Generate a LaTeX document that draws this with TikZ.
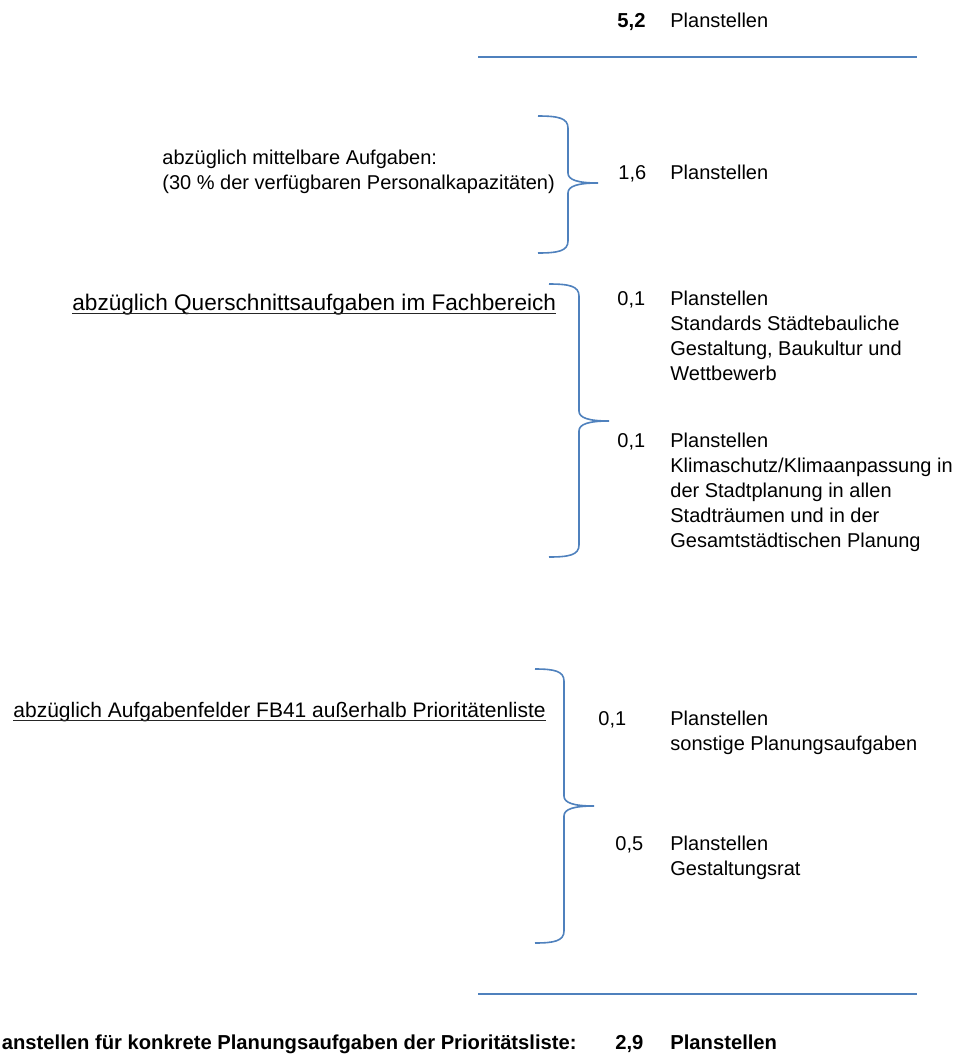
\documentclass[tikz,border=0pt]{standalone}
\usepackage{fontspec}
\setmainfont{Liberation Sans}
\usepackage{tikz}
\usetikzlibrary{positioning}
\definecolor{wordblue}{HTML}{4F81BD}

% curly bracket opening to the left: ends x, spine x, top y, tip y, bottom y
\newcommand{\planbrace}[5]{%
  \draw[bracket] (#1,#3) .. controls ({#2-10},#3) and (#2,{#3+2}) .. (#2,{#3+12})
    -- (#2,{#4-10}) .. controls (#2,{#4-3}) and ({#2+10},#4) .. ({#2+30},#4)
    .. controls ({#2+10},#4) and (#2,{#4+3}) .. (#2,{#4+10})
    -- (#2,{#5-12}) .. controls (#2,{#5-2}) and ({#2-10},#5) .. (#1,#5);}

\begin{document}
\begin{tikzpicture}[x=0.5pt, y=-0.5pt,
    txt/.style={inner sep=0pt, anchor=base west, align=left, font=\fontsize{10}{12.6}\selectfont},
    boldtxt/.style={txt, font=\fontsize{10.1}{12.6}\selectfont\bfseries},
    headtxt/.style={txt, font=\fontsize{#1}{14}\selectfont},
    sumline/.style={wordblue, line width=1pt},
    bracket/.style={wordblue, line width=0.8pt},
    ul/.style={black!85, line width=0.7pt}]

\useasboundingbox (0,0) rectangle (960,1057);

% --- total ---
\node[boldtxt] (n52) at (617,27) {5,2};
\node[txt] (p52) at (670,27) {Planstellen};
\coordinate (top1) at (478,57);
\coordinate (top2) at (917,57);
\draw[sumline] (top1) -- (top2);

% --- mittelbare Aufgaben (base = last line) ---
\node[txt] (mittel) at (162,189.6) {abzüglich mittelbare Aufgaben:\\(30 \% der verfügbaren Personalkapazitäten)};
\planbrace{538}{568}{116}{183}{253}
\node[txt] (n16) at (618,179) {1,6};
\node[txt] (p16) at (670,179) {Planstellen};

% --- Querschnittsaufgaben ---
\node[headtxt=11.3] (quer) at (72,310) {abzüglich Querschnittsaufgaben im Fachbereich};
\draw[ul] ([yshift=-1.7pt]quer.base west) -- ([yshift=-1.7pt]quer.base east);
\planbrace{549}{579}{284}{421}{557}
\node[txt] (n01a) at (617,305) {0,1};
\node[txt] (p01a) at (670,380.6) {Planstellen\\Standards Städtebauliche\\Gestaltung, Baukultur und\\Wettbewerb};
\node[txt] (n01b) at (617,447) {0,1};
\node[txt] (p01b) at (670,547.8) {Planstellen\\Klimaschutz/Klimaanpassung in\\der Stadtplanung in allen\\Stadträumen und in der\\Gesamtstädtischen Planung};

% --- Aufgabenfelder FB41 ---
\node[headtxt=10.5] (fb41) at (13,717) {abzüglich Aufgabenfelder FB41 außerhalb Prioritätenliste};
\draw[ul] ([yshift=-1.6pt]fb41.base west) -- ([yshift=-1.6pt]fb41.base east);
\planbrace{535}{564}{669}{806}{943}
\node[txt] (n01c) at (598,725) {0,1};
\node[txt] (p01c) at (670,750.2) {Planstellen\\sonstige Planungsaufgaben};
\node[txt] (n05) at (615,850) {0,5};
\node[txt] (p05) at (670,875.2) {Planstellen\\Gestaltungsrat};

% --- result ---
\coordinate (bot1) at (478,994);
\coordinate (bot2) at (917,994);
\draw[sumline] (bot1) -- (bot2);
\node[boldtxt, anchor=base east] (rest) at (577,1049) {anstellen für konkrete Planungsaufgaben der Prioritätsliste:};
\node[boldtxt] (n29) at (615,1049) {2,9};
\node[boldtxt] (p29) at (670,1049) {Planstellen};

\end{tikzpicture}
\end{document}
